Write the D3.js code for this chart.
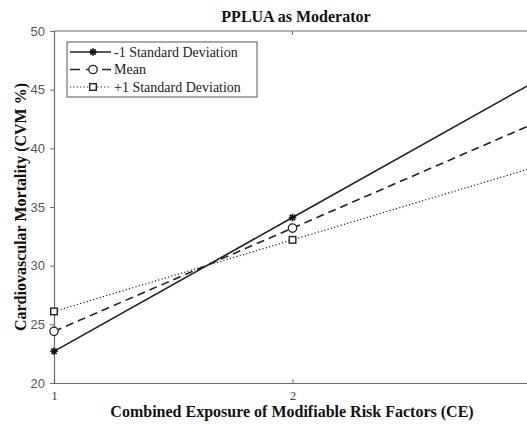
<!DOCTYPE html>
<html lang="en">
<head>
    <meta charset="UTF-8">
    <script src="https://d3js.org/d3.v7.min.js"></script>
    <title>PPLUA as Moderator</title>
    <style>
        body { margin: 0; background: #fff; }
        svg { display: block; }
    </style>
</head>
<body>
    <div id="chart"></div>
    <script>
        // data
        const ceLevels = [1, 2, 3];
        const seriesNames = ["-1 Standard Deviation", "Mean", "+1 Standard Deviation"];
        const lowSD = [22.7, 34.1, 45.5];
        const meanSD = [24.4, 33.2, 42.0];
        const highSD = [26.1, 32.2, 38.3];
        const yTicks = [20, 25, 30, 35, 40, 45, 50];
        const xTicks = [1, 2];

        const width = 527, height = 425;
        const plotLeft = 54, plotTop = 31, plotBottom = 383, plotRight = 531;
        const serif = "'Liberation Serif', 'Times New Roman', serif";

        const svg = d3.select("#chart").append("svg")
            .attr("width", width)
            .attr("height", height);

        const x = d3.scaleLinear().domain([1, 3]).range([plotLeft, plotRight]);
        const y = d3.scaleLinear().domain([20, 50]).range([plotBottom, plotTop]);

        const axisColor = "#6b6b6b";

        // box line on top
        svg.append("line").attr("x1", plotLeft).attr("x2", width).attr("y1", plotTop).attr("y2", plotTop)
            .attr("stroke", axisColor).attr("stroke-width", 1.2);

        // y axis
        const yAxis = svg.append("g")
            .attr("transform", `translate(${plotLeft},0)`)
            .call(d3.axisLeft(y).tickValues(yTicks).tickSize(4).tickPadding(5));
        yAxis.select(".domain").attr("stroke", axisColor).attr("stroke-width", 1.2);
        yAxis.selectAll(".tick line").attr("stroke", axisColor);
        yAxis.selectAll("text")
            .attr("fill", "#555")
            .style("font-family", "'Liberation Sans', Arial, sans-serif")
            .style("font-size", "13px");

        // x axis
        const xAxis = svg.append("g")
            .attr("transform", `translate(0,${plotBottom})`)
            .call(d3.axisBottom(x).tickValues(xTicks).tickFormat(d3.format("d")).tickSize(-4).tickPadding(8));
        xAxis.select(".domain").attr("stroke", axisColor).attr("stroke-width", 1.2);
        xAxis.selectAll(".tick line").attr("stroke", axisColor);
        xAxis.selectAll("text")
            .attr("fill", "#444")
            .style("font-family", serif)
            .style("font-size", "13px");

        // top ticks
        svg.selectAll(".toptick").data(xTicks.slice(1)).enter().append("line")
            .attr("x1", d => x(d)).attr("x2", d => x(d))
            .attr("y1", plotTop).attr("y2", plotTop + 4)
            .attr("stroke", axisColor);

        const series = [
            { name: seriesNames[0], values: lowSD, dash: null, width: 1.6, marker: "star" },
            { name: seriesNames[1], values: meanSD, dash: "8,5", width: 1.6, marker: "circle" },
            { name: seriesNames[2], values: highSD, dash: "1.2,2.2", width: 1.2, marker: "square" }
        ];

        const line = d3.line()
            .x((d, i) => x(ceLevels[i]))
            .y(d => y(d));

        svg.append("clipPath").attr("id", "clip")
            .append("rect").attr("x", plotLeft).attr("y", plotTop)
            .attr("width", width - plotLeft).attr("height", plotBottom - plotTop);

        const plot = svg.append("g").attr("clip-path", "url(#clip)");

        function drawMarker(g, type, cx, cy) {
            if (type === "star") {
                const r = 3.8;
                for (let a = 0; a < 4; a++) {
                    const ang = a * Math.PI / 4;
                    g.append("line")
                        .attr("x1", cx - r * Math.cos(ang)).attr("y1", cy - r * Math.sin(ang))
                        .attr("x2", cx + r * Math.cos(ang)).attr("y2", cy + r * Math.sin(ang))
                        .attr("stroke", "#111").attr("stroke-width", 1.6);
                }
            } else if (type === "circle") {
                g.append("circle").attr("cx", cx).attr("cy", cy).attr("r", 4.2)
                    .attr("fill", "#fff").attr("stroke", "#222").attr("stroke-width", 1.3);
            } else {
                g.append("rect").attr("x", cx - 3.3).attr("y", cy - 3.3)
                    .attr("width", 6.6).attr("height", 6.6)
                    .attr("fill", "#fff").attr("stroke", "#222").attr("stroke-width", 1.4);
            }
        }

        series.forEach(s => {
            plot.append("path")
                .datum(s.values)
                .attr("d", line)
                .attr("fill", "none")
                .attr("stroke", "#222")
                .attr("stroke-width", s.width)
                .attr("stroke-dasharray", s.dash);
        });

        // markers (only those inside the visible window)
        series.forEach(s => {
            s.values.forEach((v, i) => {
                const cx = x(ceLevels[i]);
                if (cx + 4 > width) return;
                drawMarker(svg, s.marker, cx, y(v));
            });
        });

        // legend
        const lg = svg.append("g").attr("transform", "translate(67,42)");
        lg.append("rect").attr("width", 190).attr("height", 55)
            .attr("fill", "#fff").attr("stroke", "#555").attr("stroke-width", 1);
        series.forEach((s, i) => {
            const yy = 10 + i * 17.5;
            lg.append("line").attr("x1", 3).attr("x2", 44).attr("y1", yy).attr("y2", yy)
                .attr("stroke", "#222").attr("stroke-width", s.width)
                .attr("stroke-dasharray", s.marker === "circle" ? "10,6" : s.dash);
            drawMarker(lg, s.marker, 26, yy);
            lg.append("text").attr("x", 47).attr("y", yy + 4.5)
                .text(s.name)
                .style("font-family", serif)
                .style("font-size", "14px")
                .attr("fill", "#222");
        });

        // title
        svg.append("text")
            .attr("x", 296).attr("y", 22)
            .attr("text-anchor", "middle")
            .style("font-family", serif)
            .style("font-size", "16px").style("font-weight", "bold")
            .attr("fill", "#111")
            .text("PPLUA as Moderator");

        // axis titles
        svg.append("text")
            .attr("x", 292).attr("y", 417)
            .attr("text-anchor", "middle")
            .style("font-family", serif)
            .style("font-size", "16px").style("font-weight", "bold")
            .attr("fill", "#111")
            .text("Combined Exposure of Modifiable Risk Factors (CE)");

        svg.append("text")
            .attr("transform", "translate(26,207) rotate(-90)")
            .attr("text-anchor", "middle")
            .style("font-family", serif)
            .style("font-size", "16px").style("font-weight", "bold")
            .attr("fill", "#111")
            .text("Cardiovascular Mortality (CVM %)");
    </script>
</body>
</html>
